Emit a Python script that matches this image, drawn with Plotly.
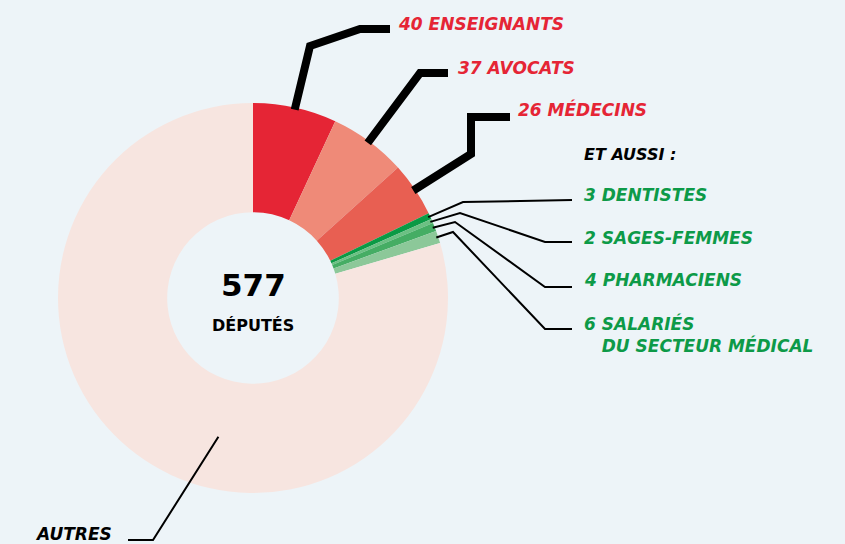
import math
import plotly.graph_objects as go

# ---- data ----
labels = ["40 ENSEIGNANTS", "37 AVOCATS", "26 MÉDECINS", "3 DENTISTES",
          "2 SAGES-FEMMES", "4 PHARMACIENS", "6 SALARIÉS<br>   DU SECTEUR MÉDICAL", "AUTRES"]
categories = ["Enseignants", "Avocats", "Médecins", "Dentistes",
              "Sages-femmes", "Pharmaciens", "Salariés du secteur médical", "Autres"]
values = [40, 37, 26, 3, 2, 4, 6, 459]
total_label = "577"
colors = ["#e52535", "#ef8a78", "#e85f52", "#0b9a45", "#6cc083", "#45ad64", "#8cc899", "#f7e5e0"]

W, H = 845, 544
BG = "#edf4f8"
CX, CY, R, HOLE = 253, 298, 195, 0.44
FONT = "DejaVu Sans"


def px(x, y):
    return x / W, 1 - y / H


def pt_on_ring(angle_deg, r):
    a = math.radians(angle_deg)
    return CX + r * math.sin(a), CY - r * math.cos(a)


fig = go.Figure()
x0, y1 = px(CX - R, CY - R)
x1, y0 = px(CX + R, CY + R)
fig.add_trace(go.Pie(
    labels=categories, values=values, hole=HOLE, sort=False,
    direction="clockwise", rotation=0, textinfo="none", hoverinfo="label+value",
    marker=dict(colors=colors, line=dict(width=0)),
    domain=dict(x=[x0, x1], y=[y0, y1]), showlegend=False,
))

# slice mid angles from the data
tot = sum(values)
mids = []
acc = 0
for v in values:
    mids.append((acc + v / 2) / tot * 360)
    acc += v

shapes = []
annotations = []


def add_path(points, width):
    path = ""
    for i, (x, y) in enumerate(points):
        xx, yy = px(x, y)
        path += ("M" if i == 0 else "L") + f"{xx:.5f},{yy:.5f} "
    shapes.append(dict(type="path", path=path, xref="paper", yref="paper",
                       line=dict(color="black", width=width), layer="above"))


def add_text(text, x, y, color, size=16, weight="bold", style="italic", anchor="left"):
    xx, yy = px(x, y)
    annotations.append(dict(text=text, x=xx, y=yy, xref="paper", yref="paper",
                            xanchor=anchor, yanchor="middle", showarrow=False, align="left",
                            font=dict(family=FONT, size=size, color=color,
                                      weight=weight, style=style)))


RED = "#e52535"
GREEN = "#0d9a48"

# leader lines: thick for red slices
s = pt_on_ring(mids[0], R - 2)
add_path([s, (310, 46), (360, 29), (390, 29)], 8)
s = pt_on_ring(mids[1], R - 2)
add_path([s, (420, 73), (448, 73)], 8)
s = pt_on_ring(mids[2], R - 2)
add_path([s, (471, 154), (471, 117), (510, 117)], 8)
# thin for green slices
s = pt_on_ring(mids[3], R - 2)
add_path([s, (463, 202), (572, 200)], 2)
s = pt_on_ring(mids[4], R - 2)
add_path([s, (460, 213), (545, 242), (572, 242)], 2)
s = pt_on_ring(mids[5], R - 2)
add_path([s, (455, 222), (545, 287), (572, 287)], 2)
s = pt_on_ring(mids[6], R - 2)
add_path([s, (453, 232), (545, 329), (572, 329)], 2)
# autres
s = pt_on_ring(194, 143)
add_path([s, (153, 540), (128, 540)], 2)

add_text(labels[0], 396, 24, RED, size=17)
add_text(labels[1], 456, 68, RED, size=17)
add_text(labels[2], 516, 109, RED, size=17)
add_text("ET AUSSI :", 582, 154, "black", size=16)
add_text(labels[3], 582, 195, GREEN, size=17)
add_text(labels[4], 582, 238, GREEN, size=17)
add_text(labels[5], 582, 280, GREEN, size=17)
add_text(labels[6], 582, 334, GREEN, size=17)
add_text(labels[7], 33, 534, "black", size=17)

add_text(total_label, CX, 285, "black", size=31, style="normal", anchor="center")
add_text("DÉPUTÉS", CX, 325, "black", size=16, style="normal", anchor="center")

fig.update_layout(
    width=W, height=H, margin=dict(l=0, r=0, t=0, b=0),
    paper_bgcolor=BG, plot_bgcolor=BG,
    shapes=shapes, annotations=annotations,
)
fig.write_html("out.html", config={"displayModeBar": False},
               post_script="document.body.style.margin='0';document.body.style.background='%s';" % BG)
